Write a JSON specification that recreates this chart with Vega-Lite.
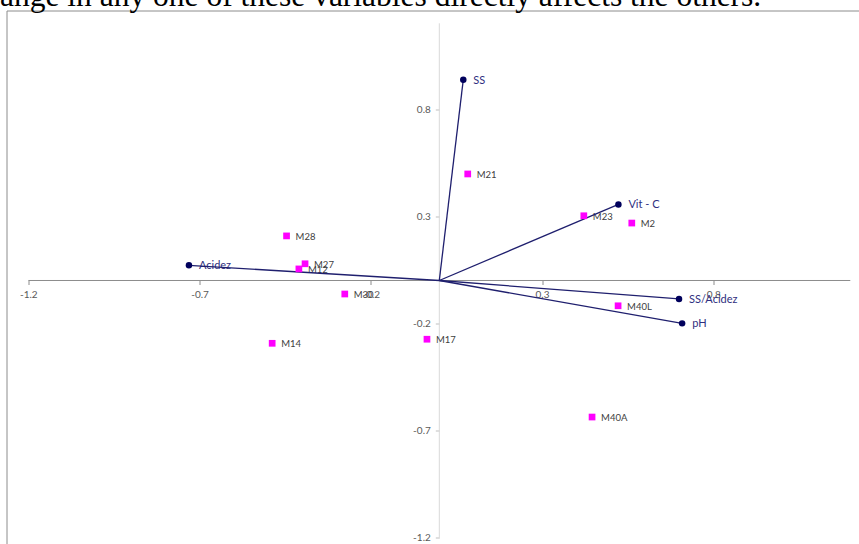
{
  "$schema": "https://vega.github.io/schema/vega-lite/v6.json",
  "width": 854,
  "height": 535,
  "autosize": "none",
  "padding": {"left": 6.5, "top": 10.5, "right": -1.5, "bottom": -1.5},
  "background": "white",
  "view": {"stroke": "#8c8c8c", "strokeWidth": 1, "fill": "white"},
  "title": {
    "text": "ange in any one of these variables directly affects the others.",
    "anchor": "start",
    "frame": "group",
    "orient": "top",
    "font": "Liberation Serif",
    "fontSize": 31.5,
    "fontWeight": "normal",
    "color": "black",
    "baseline": "alphabetic",
    "offset": -27,
    "dx": -6.5
  },
  "datasets": {
    "vars": [
      {"name": "SS", "x": 0.070, "y": 0.937},
      {"name": "Vit - C", "x": 0.523, "y": 0.355},
      {"name": "SS/Acidez", "x": 0.700, "y": -0.086},
      {"name": "pH", "x": 0.709, "y": -0.200},
      {"name": "Acidez", "x": -0.731, "y": 0.071}
    ],
    "samples": [
      {"name": "M21", "x": 0.083, "y": 0.497},
      {"name": "M23", "x": 0.422, "y": 0.302},
      {"name": "M2", "x": 0.562, "y": 0.268},
      {"name": "M40L", "x": 0.522, "y": -0.118},
      {"name": "M28", "x": -0.446, "y": 0.208},
      {"name": "M27", "x": -0.392, "y": 0.078},
      {"name": "M12", "x": -0.410, "y": 0.054},
      {"name": "M30", "x": -0.276, "y": -0.063},
      {"name": "M14", "x": -0.488, "y": -0.293},
      {"name": "M17", "x": -0.036, "y": -0.274},
      {"name": "M40A", "x": 0.446, "y": -0.637}
    ]
  },
  "encoding": {
    "x": {
      "type": "quantitative",
      "scale": {"domain": [-1.2637, 1.2298], "nice": false, "zero": false},
      "axis": {
        "orient": "bottom",
        "offset": -265,
        "title": null,
        "values": [-1.2, -0.7, -0.2, 0.3, 0.8],
        "labelExpr": "'' + datum.value",
        "domain": false,
        "grid": false,
        "tickColor": "#8c8c8c",
        "tickSize": 4,
        "labelFont": "Lato",
        "labelFontSize": 10,
        "labelColor": "#595959",
        "labelPadding": 5
      }
    },
    "y": {
      "type": "quantitative",
      "scale": {"domain": [-1.2363, 1.2596], "nice": false, "zero": false},
      "axis": {
        "orient": "left",
        "offset": -432.8,
        "title": null,
        "values": [-1.2, -0.7, -0.2, 0.3, 0.8],
        "labelExpr": "'' + datum.value",
        "domain": false,
        "grid": false,
        "tickColor": "#bfbfbf",
        "tickSize": 4,
        "labelFont": "Lato",
        "labelFontSize": 10,
        "labelColor": "#595959",
        "labelPadding": 5
      }
    }
  },
  "layer": [
    {
      "data": {"values": [{}]},
      "mark": {"type": "rule", "color": "#d9d9d9", "strokeWidth": 1},
      "encoding": {"x": {"datum": 0}, "y": {"datum": -1.2}, "y2": {"datum": 1.2}}
    },
    {
      "data": {"values": [{}]},
      "mark": {"type": "rule", "color": "#8c8c8c", "strokeWidth": 1},
      "encoding": {"y": {"datum": 0}, "x": {"datum": -1.2}, "x2": {"datum": 1.2}}
    },
    {
      "data": {"name": "samples"},
      "mark": {"type": "text", "align": "left", "baseline": "middle", "dx": 9, "dy": 1, "font": "Lato", "fontSize": 9.5, "color": "#404040"},
      "encoding": {"x": {"field": "x"}, "y": {"field": "y"}, "text": {"field": "name"}}
    },
    {
      "data": {"name": "vars"},
      "mark": {"type": "text", "align": "left", "baseline": "middle", "dx": 10, "dy": 1, "font": "Lato", "fontSize": 11, "color": "#2F2F80"},
      "encoding": {"x": {"field": "x"}, "y": {"field": "y"}, "text": {"field": "name"}}
    },
    {
      "data": {"name": "vars"},
      "mark": {"type": "rule", "color": "#1F1F6E", "strokeWidth": 1.3},
      "encoding": {"x": {"field": "x"}, "y": {"field": "y"}, "x2": {"datum": 0}, "y2": {"datum": 0}}
    },
    {
      "data": {"name": "vars"},
      "mark": {"type": "point", "shape": "circle", "filled": true, "size": 42, "color": "#00005C", "opacity": 1},
      "encoding": {"x": {"field": "x"}, "y": {"field": "y"}}
    },
    {
      "data": {"name": "samples"},
      "mark": {"type": "point", "shape": "square", "filled": true, "size": 45, "color": "#FF00FF", "opacity": 1},
      "encoding": {"x": {"field": "x"}, "y": {"field": "y"}}
    }
  ]
}
